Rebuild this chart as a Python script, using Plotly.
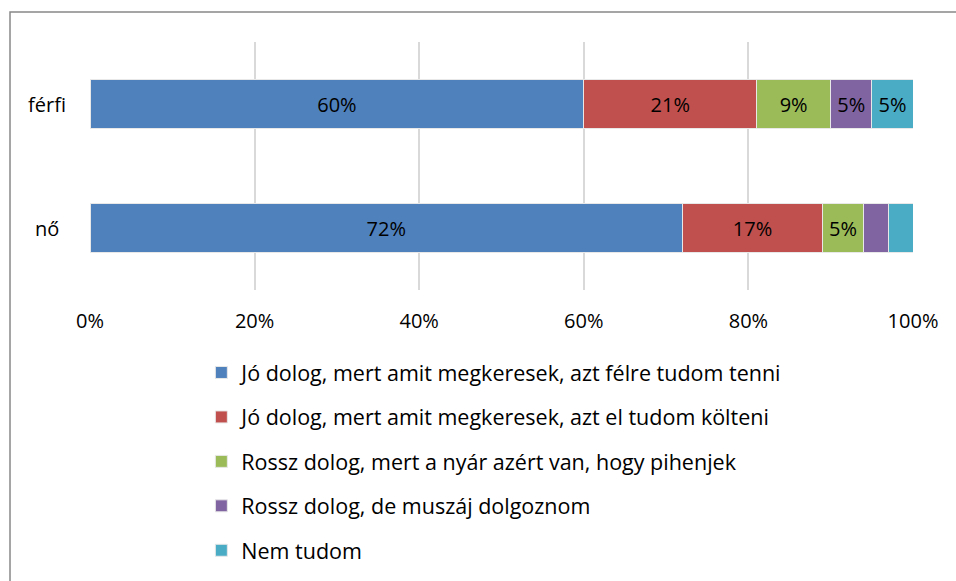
import plotly.graph_objects as go

# Survey answers by gender (percent of respondents)
categories = ["férfi", "nő"]
answers = [
    "Jó dolog, mert amit megkeresek, azt félre tudom tenni",
    "Jó dolog, mert amit megkeresek, azt el tudom költeni",
    "Rossz dolog, mert a nyár azért van, hogy pihenjek",
    "Rossz dolog, de muszáj dolgoznom",
    "Nem tudom",
]
ferfi_values = [60, 21, 9, 5, 5]
no_values = [72, 17, 5, 3, 3]
colors = ["#4F81BD", "#C0504D", "#9BBB59", "#8064A2", "#4BACC6"]
tick_values = [0, 20, 40, 60, 80, 100]
tick_labels = ["0%", "20%", "40%", "60%", "80%", "100%"]

FONT = "Open Sans"

fig = go.Figure()
for i, name in enumerate(answers):
    vals = [ferfi_values[i], no_values[i]]
    labels = [f"{v}%" if v >= 5 else "" for v in vals]
    fig.add_trace(go.Bar(
        name=name,
        y=categories,
        x=vals,
        orientation="h",
        marker=dict(color=colors[i], line=dict(color="#e8e8e8", width=1)),
        text=labels,
        textposition="inside",
        insidetextanchor="middle",
        textangle=0,
        constraintext="none",
        textfont=dict(family=FONT, size=20, color="#000000"),
        legendgroup=name,
        hoverinfo="x+name",
    ))

# category labels, centred in the space left of the plot area
annotations = [
    dict(text=c, x=-0.052, xref="paper", y=c, yref="y",
         xanchor="center", yanchor="middle", showarrow=False,
         font=dict(family=FONT, size=20, color="#000000"))
    for c in categories
]

fig.update_layout(
    barmode="stack",
    bargap=0.6,
    width=956,
    height=581,
    margin=dict(l=90, r=43, t=42, b=291, autoexpand=False),
    paper_bgcolor="white",
    plot_bgcolor="white",
    font=dict(family=FONT, size=20, color="#000000"),
    xaxis=dict(
        range=[0, 100],
        tickvals=tick_values,
        ticktext=tick_labels,
        showgrid=True,
        gridcolor="#d9d9d9",
        gridwidth=1.5,
        zeroline=False,
        showline=False,
        ticks="",
        ticklabelstandoff=17,
        tickfont=dict(family=FONT, size=20),
    ),
    yaxis=dict(
        autorange="reversed",
        showgrid=False,
        zeroline=False,
        showline=False,
        ticks="",
        showticklabels=False,
    ),
    annotations=annotations,
    legend=dict(
        orientation="v",
        x=0.1353,
        xanchor="left",
        y=-0.25,
        yanchor="top",
        traceorder="grouped",
        tracegroupgap=13.5,
        font=dict(family=FONT, size=21.5),
        bgcolor="rgba(0,0,0,0)",
    ),
    shapes=[
        # outer chart frame
        dict(type="rect", xref="paper", yref="paper",
             x0=-0.0972, x1=1.08, y0=-1.4, y1=1.121,
             line=dict(color="#888888", width=1.5), fillcolor="rgba(0,0,0,0)",
             layer="below"),
    ],
)

fig.write_html("out.html")
